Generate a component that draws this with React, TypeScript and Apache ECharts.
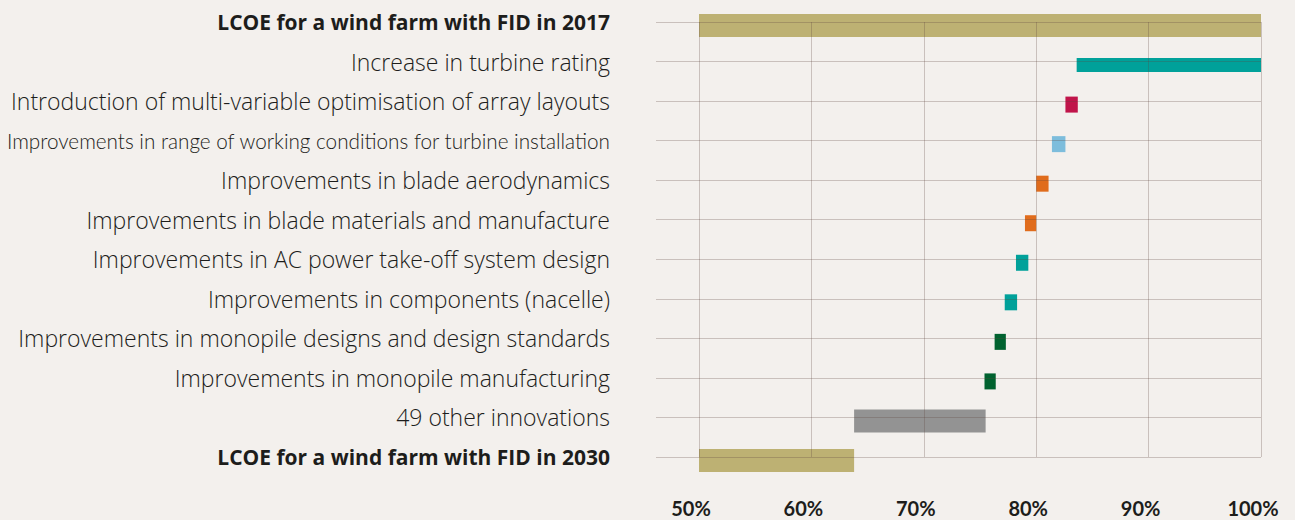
import React, { useEffect, useRef } from "react";
import * as echarts from "echarts";

const categories = [
  "LCOE for a wind farm with FID in 2017",
  "Increase in turbine rating",
  "Introduction of multi-variable optimisation of array layouts",
  "Improvements in range of working conditions for turbine installation",
  "Improvements in blade aerodynamics",
  "Improvements in blade materials and manufacture",
  "Improvements in AC power take-off system design",
  "Improvements in components (nacelle)",
  "Improvements in monopile designs and design standards",
  "Improvements in monopile manufacturing",
  "49 other innovations",
  "LCOE for a wind farm with FID in 2030",
];

// bar start / end, % of 2017 LCOE
const startValues = [0, 83.6, 82.6, 81.4, 80.0, 79.0, 78.2, 77.2, 76.3, 75.4, 63.8, 0];
const endValues = [100, 100, 83.7, 82.6, 81.1, 80.0, 79.3, 78.3, 77.3, 76.4, 75.5, 63.8];

const xTicks = [50, 60, 70, 80, 90, 100];

// styles
const barColors = [
  "#bdb173", "#00a19a", "#c0144a", "#7dbddc", "#e06c1c", "#e06c1c",
  "#00a19a", "#00a19a", "#00622f", "#00622f", "#939393", "#bdb173",
];
const barHeights = [23, 14, 16, 16, 16, 16, 16, 16, 16, 16, 23, 23];
const labelStyles = ["b", "n", "n", "c", "n", "n", "n", "n", "n", "n", "n", "b"];

export default function App() {
  const ref = useRef<HTMLDivElement>(null);
  useEffect(() => {
    const chart = echarts.init(ref.current!, null, { renderer: "svg" });
    const data = categories.map((_, i) => [startValues[i], endValues[i], i]);
    const gridColor = "rgba(95,70,60,0.28)";
    chart.setOption({
      animation: false,
      backgroundColor: "#f3f0ed",
      grid: { left: 699, right: 34, top: 22, bottom: 63, outerBoundsMode: "none", containLabel: false },
      xAxis: {
        type: "value",
        min: 50,
        max: 100,
        interval: 10,
        z: 10,
        axisLine: { show: false },
        axisTick: { show: false },
        splitLine: { show: true, lineStyle: { color: gridColor, width: 1 } },
        axisLabel: {
          margin: 41,
          formatter: (v: number) => v + "%",
          fontFamily: "Lato",
          fontWeight: 700,
          fontSize: 20,
          color: "#1d1d1b",
          padding: [0, 16, 0, 0],
          customValues: xTicks,
        },
      },
      yAxis: {
        type: "category",
        data: categories,
        inverse: true,
        boundaryGap: false,
        z: 10,
        axisLine: { show: false },
        axisTick: { show: true, length: 43, lineStyle: { color: gridColor, width: 1 } },
        splitLine: { show: true, lineStyle: { color: gridColor, width: 1 } },
        axisLabel: {
          margin: 89,
          color: "#1d1d1b",
          formatter: (v: string) => {
            const i = categories.indexOf(v);
            return "{" + labelStyles[i] + "|" + v + "}";
          },
          rich: {
            b: { fontFamily: "Open Sans", fontWeight: 700, fontSize: 21, color: "#1d1d1b" },
            n: { fontFamily: "Open Sans", fontWeight: 300, fontSize: 23, color: "#1d1d1b" },
            c: { fontFamily: "Lato", fontWeight: 300, fontSize: 20.7, color: "#1d1d1b" },
          },
        },
      },
      series: [
        {
          type: "custom",
          encode: { x: [0, 1], y: 2 },
          data,
          renderItem: (params: any, api: any) => {
            const cat = api.value(2);
            const p0 = api.coord([api.value(0), cat]);
            const p1 = api.coord([api.value(1), cat]);
            const h = barHeights[cat];
            const cs = params.coordSys;
            const shape = echarts.graphic.clipRectByRect(
              { x: p0[0], y: p0[1] + 3.5 - h / 2, width: p1[0] - p0[0], height: h },
              { x: cs.x, y: cs.y - 30, width: cs.width, height: cs.height + 60 }
            );
            return shape && { type: "rect", shape, style: { fill: barColors[cat] } };
          },
        },
      ],
    });
    return () => chart.dispose();
  }, []);
  return (
    <div
      ref={ref}
      style={{ position: "absolute", left: 0, top: 0, width: 1295, height: 520 }}
    />
  );
}
